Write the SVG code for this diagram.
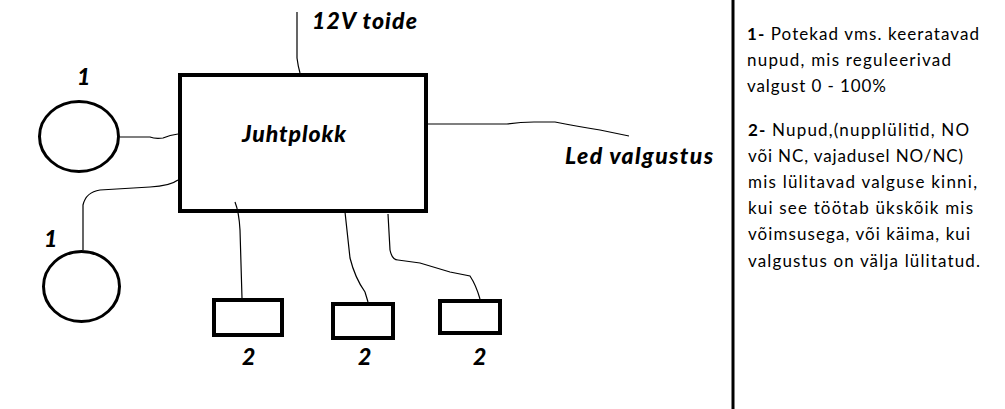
<svg xmlns="http://www.w3.org/2000/svg" width="1005" height="409" viewBox="0 0 1005 409">
<style>
.node{fill:none;stroke:#000;stroke-width:4}
.circ{fill:none;stroke:#000;stroke-width:3}
.wire{fill:none;stroke:#000;stroke-width:1.2}
.lbl{font-family:Lato,"Open Sans","Liberation Sans",sans-serif;font-weight:900;font-style:italic;font-size:23px;fill:#000}
.txt{font-family:Lato,"Open Sans","Liberation Sans",sans-serif;font-size:17px;fill:#000}
.b{font-weight:bold}
</style>
<defs>
<clipPath id="clipText"><rect x="740" y="0" width="265" height="271"/></clipPath>
</defs>
<rect width="1005" height="409" fill="#fff"/>
<g id="connectors">
<path class="wire" d="M297 12 L297 58 Q298 66 300 73"/>
<path class="wire" d="M120 137 L150 137 Q155 139 163 138 Q170 135 178 134"/>
<path class="wire" d="M83 250 L83 205 Q86 192 100 190 L150 187 Q170 186 178 180"/>
<path class="wire" d="M428 124 L507 124 Q520 122 534 122 L555 122 Q575 126 600 130 L629 136"/>
<path class="wire" d="M235 202 Q239 212 240 230 L242 298"/>
<path class="wire" d="M345 212 L350 258 Q355 278 365 292 L368 302"/>
<path class="wire" d="M388 214 L390 250 Q392 260 398 260 L420 263 L450 272 L470 276 Q476 285 480 299"/>
</g>
<g id="juhtplokk">
<rect class="node" x="180" y="75" width="246" height="136"/>
<text class="lbl" x="242" y="142" textLength="104">Juhtplokk</text>
</g>
<g id="toide">
<text class="lbl" x="312" y="29" textLength="105">12V toide</text>
</g>
<g id="led">
<text class="lbl" x="565" y="164" textLength="148">Led valgustus</text>
</g>
<g id="pot1">
<ellipse class="circ" cx="79" cy="136.5" rx="39.5" ry="35"/>
<text class="lbl" x="77" y="85">1</text>
</g>
<g id="pot2">
<ellipse class="circ" cx="81.5" cy="286.5" rx="38" ry="35"/>
<text class="lbl" x="44" y="247">1</text>
</g>
<g id="btn1">
<rect class="node" x="214" y="300" width="68" height="35"/>
<text class="lbl" x="242" y="365">2</text>
</g>
<g id="btn2">
<rect class="node" x="333" y="304" width="60" height="34"/>
<text class="lbl" x="358" y="365">2</text>
</g>
<g id="btn3">
<rect class="node" x="440" y="301" width="60" height="32"/>
<text class="lbl" x="473" y="365">2</text>
</g>
<g id="divider">
<line x1="733" y1="0" x2="733" y2="409" stroke="#000" stroke-width="3"/>
</g>
<g id="legend" class="txt" clip-path="url(#clipText)">
<text x="747" y="40" textLength="232"><tspan class="b">1-</tspan> Potekad vms. keeratavad</text>
<text x="747" y="66" textLength="204">nupud, mis reguleerivad</text>
<text x="747" y="92" textLength="139">valgust 0 - 100%</text>
<text x="748" y="136" textLength="221"><tspan class="b">2-</tspan> Nupud,(nupplülitid, NO</text>
<text x="748" y="162" textLength="215">või NC, vajadusel NO/NC)</text>
<text x="748" y="188" textLength="229">mis lülitavad valguse kinni,</text>
<text x="748" y="214" textLength="225">kui see töötab ükskõik mis</text>
<text x="748" y="240" textLength="222">võimsusega, või käima, kui</text>
<text x="748" y="267" textLength="232">valgustus on välja lülitatud.</text>
</g>
</svg>
